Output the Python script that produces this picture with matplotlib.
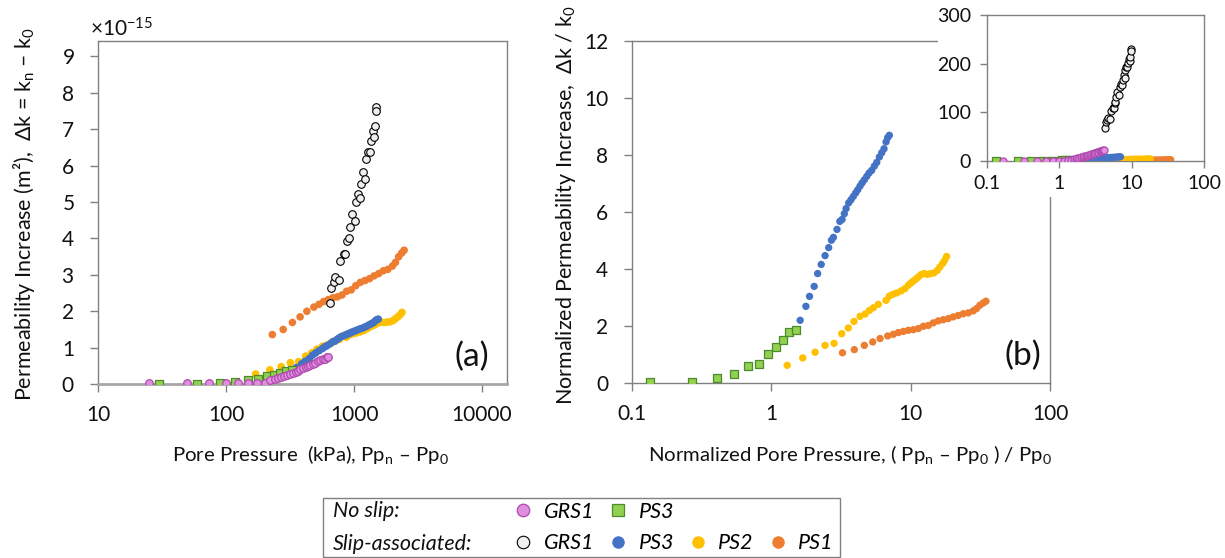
import numpy as np
import matplotlib
matplotlib.use("Agg")
import matplotlib.pyplot as plt
from matplotlib.lines import Line2D
from matplotlib.patches import Rectangle
from matplotlib.ticker import ScalarFormatter, FixedLocator

plt.rcParams['font.family'] = ['Lato', 'DejaVu Sans']
plt.rcParams['mathtext.fontset'] = 'custom'
plt.rcParams['mathtext.rm'] = 'Lato'
plt.rcParams['mathtext.it'] = 'Lato:italic'

# ---- data ----
# GRS1 read in raw units: pressure (kPa), permeability increase (1e-15 m^2)
grs1_ns_p = [24.9, 49.5, 74, 100, 123, 149, 175, 200, 222, 240, 255, 270, 285, 300,
             318, 335, 350, 365, 381, 400, 420, 440, 456, 480, 500, 525, 546, 570,
             590, 610, 627]
grs1_ns_dk = [0.03, 0.03, 0.03, 0.03, 0.03, 0.03, 0.03, 0.04, 0.10, 0.13, 0.16, 0.18,
              0.22, 0.25, 0.28, 0.31, 0.34, 0.37, 0.40, 0.43, 0.46, 0.49, 0.52, 0.55,
              0.58, 0.62, 0.65, 0.68, 0.70, 0.73, 0.74]
grs1_sl_p = [646, 665, 693, 714, 759, 781, 830, 855, 881, 908, 935, 964, 1011, 1042,
             1074, 1107, 1140, 1175, 1211, 1248, 1285, 1324, 1364, 1406, 1425, 1450,
             1475, 1494]
grs1_sl_dk = [2.23, 2.65, 2.81, 2.93, 2.85, 3.38, 3.57, 3.58, 3.93, 4.02, 4.32, 4.66,
              4.48, 4.99, 5.23, 5.12, 5.48, 5.83, 5.63, 6.17, 6.38, 6.38, 6.67, 6.94,
              6.79, 7.08, 7.61, 7.49]

# PS tests read in normalized units: (Ppn-Pp0)/Pp0 and dk/k0
ps3_ns_x = [0.135, 0.268, 0.407, 0.538, 0.679, 0.814, 0.949, 1.083, 1.209, 1.349, 1.498]
ps3_ns_y = [0.035, 0.035, 0.19, 0.32, 0.59, 0.68, 1.01, 1.26, 1.52, 1.78, 1.85]
ps3_sl_x = [1.61, 1.77, 1.88, 2.03, 2.15, 2.28, 2.43, 2.58, 2.70, 2.79, 2.96, 3.10,
            3.22, 3.34, 3.44, 3.59, 3.73, 3.88, 4.03, 4.17, 4.33, 4.48, 4.65, 4.84,
            5.03, 5.25, 5.49, 5.71, 5.96, 6.20, 6.44, 6.66, 6.84, 7.03]
ps3_sl_y = [2.20, 2.69, 3.04, 3.39, 3.84, 4.16, 4.47, 4.75, 5.01, 5.11, 5.39, 5.67,
            5.74, 5.94, 6.12, 6.32, 6.43, 6.55, 6.67, 6.78, 6.91, 7.02, 7.13, 7.25,
            7.37, 7.46, 7.61, 7.74, 7.93, 8.08, 8.22, 8.46, 8.61, 8.69]
ps2_x = [1.30, 1.68, 2.06, 2.43, 2.82, 3.20, 3.57, 3.92, 4.33, 4.71, 5.06, 5.40, 5.86,
         6.66, 7.03, 7.43, 7.94, 8.53, 9.10, 9.62, 10.05, 10.45, 10.92, 11.35, 11.86,
         12.46, 13.16, 13.90, 14.69, 15.52, 16.2, 16.94, 17.52, 18.1]
ps2_y = [0.62, 0.88, 1.08, 1.32, 1.39, 1.73, 1.93, 2.16, 2.34, 2.42, 2.55, 2.64, 2.76,
         2.90, 3.05, 3.11, 3.16, 3.23, 3.31, 3.43, 3.51, 3.58, 3.65, 3.72, 3.80, 3.84,
         3.81, 3.84, 3.86, 3.95, 4.07, 4.19, 4.30, 4.44]
ps1_x = [3.24, 3.94, 4.65, 5.34, 6.03, 6.84, 7.51, 8.16, 8.86, 9.62, 10.45, 11.35,
         12.33, 13.39, 14.53, 15.79, 17.14, 18.62, 20.2, 21.97, 23.86, 25.9, 28.1,
         29.7, 31.4, 33.2, 34.7]
ps1_y = [1.06, 1.17, 1.32, 1.44, 1.56, 1.65, 1.71, 1.77, 1.81, 1.85, 1.87, 1.91, 1.99,
         2.02, 2.11, 2.18, 2.22, 2.26, 2.32, 2.37, 2.43, 2.46, 2.53, 2.61, 2.73, 2.81,
         2.87]

# initial pore pressure (kPa) and initial permeability (1e-15 m^2) per sample
pp0 = {'GRS1': 152, 'PS3': 220, 'PS2': 131, 'PS1': 71}
k0 = {'GRS1': 0.033, 'PS3': 0.205, 'PS2': 0.443, 'PS1': 1.28}

# raw series for panel (a), normalized series for panel (b)
raw = {
    'grs1_ns': (np.array(grs1_ns_p), np.array(grs1_ns_dk)),
    'grs1_sl': (np.array(grs1_sl_p), np.array(grs1_sl_dk)),
    'ps3_ns': (np.array(ps3_ns_x) * pp0['PS3'], np.array(ps3_ns_y) * k0['PS3']),
    'ps3_sl': (np.array(ps3_sl_x) * pp0['PS3'], np.array(ps3_sl_y) * k0['PS3']),
    'ps2': (np.array(ps2_x) * pp0['PS2'], np.array(ps2_y) * k0['PS2']),
    'ps1': (np.array(ps1_x) * pp0['PS1'], np.array(ps1_y) * k0['PS1']),
}
norm = {
    'grs1_ns': (np.array(grs1_ns_p) / pp0['GRS1'], np.array(grs1_ns_dk) / k0['GRS1']),
    'grs1_sl': (np.array(grs1_sl_p) / pp0['GRS1'], np.array(grs1_sl_dk) / k0['GRS1']),
    'ps3_ns': (np.array(ps3_ns_x), np.array(ps3_ns_y)),
    'ps3_sl': (np.array(ps3_sl_x), np.array(ps3_sl_y)),
    'ps2': (np.array(ps2_x), np.array(ps2_y)),
    'ps1': (np.array(ps1_x), np.array(ps1_y)),
}

# ---- styles ----
BLUE, YELLOW, ORANGE = '#4472C4', '#FFC000', '#ED7D31'
styles = {
    'ps1': dict(marker='o', color=ORANGE, edgecolor='none'),
    'ps2': dict(marker='o', color=YELLOW, edgecolor='none'),
    'ps3_sl': dict(marker='o', color=BLUE, edgecolor='none'),
    'ps3_ns': dict(marker='s', color='#92D050', edgecolor='#4E8A2E', linewidth=0.9),
    'grs1_sl': dict(marker='o', color='#F0F0F0', edgecolor='black', linewidth=0.8),
    'grs1_ns': dict(marker='o', color='#E08FDF', edgecolor='#B04AB0', linewidth=0.9),
}
order = ['ps1', 'ps2', 'ps3_sl', 'ps3_ns', 'grs1_sl', 'grs1_ns']
SPINE = '#808080'
TXT = '#111111'

W, H = 1225, 558
fig = plt.figure(figsize=(W / 100, H / 100), dpi=100)


def px_axes(x0, y0, x1, y1, **kw):
    return fig.add_axes([x0 / W, 1 - y1 / H, (x1 - x0) / W, (y1 - y0) / H], **kw)


def style_axes(ax, size, ylen, ypad, xpad):
    for s in ax.spines.values():
        s.set_color(SPINE)
        s.set_linewidth(1.0)
    ax.tick_params(axis='both', which='major', direction='out', color=SPINE,
                   labelcolor=TXT, labelsize=size, width=1.0, length=ylen)
    ax.tick_params(axis='y', pad=ypad)
    ax.tick_params(axis='x', pad=xpad)
    ax.tick_params(which='minor', length=0)


axL = px_axes(98, 41, 507, 384)
axR = px_axes(632, 41, 1050, 383, zorder=0)
axI = px_axes(987, 15, 1204, 161, zorder=2)
fig.add_artist(Rectangle((938 / W, 1 - 197 / H), 1 - 938 / W, 197 / H,
                         transform=fig.transFigure, facecolor='white',
                         edgecolor='none', zorder=1))

# panel (a)
for key in order:
    x, y = raw[key]
    axL.scatter(x, y * 1e-15, s=30, zorder=3, **styles[key])
axL.set_xscale('log')
axL.set_xlim(10, 15670)
axL.set_ylim(0, 9.42e-15)
axL.xaxis.set_major_locator(FixedLocator([10, 100, 1000, 10000]))
axL.set_xticklabels(['10', '100', '1000', '10000'])
axL.yaxis.set_major_locator(FixedLocator(np.arange(0, 10) * 1e-15))
fmt = ScalarFormatter(useMathText=True)
fmt.set_powerlimits((0, 0))
axL.yaxis.set_major_formatter(fmt)
style_axes(axL, 15, 6, 11, 9)
axL.spines['bottom'].set_color('#A6A6A6')
axL.spines['bottom'].set_linewidth(2.0)
axL.yaxis.get_offset_text().set_fontsize(15)
axL.yaxis.get_offset_text().set_x(-0.02)
axL.text(0.915, 0.08, '(a)', transform=axL.transAxes, fontsize=24,
         ha='center', va='center', color=TXT)

# panel (b)
for key in ['ps2', 'ps1', 'ps3_sl', 'ps3_ns']:
    x, y = norm[key]
    axR.scatter(x, y, s=28, zorder=3, **styles[key])
axR.set_xscale('log')
axR.set_xlim(0.1, 100)
axR.set_ylim(0, 12)
axR.xaxis.set_major_locator(FixedLocator([0.1, 1, 10, 100]))
axR.set_xticklabels(['0.1', '1', '10', '100'])
axR.yaxis.set_major_locator(FixedLocator([0, 2, 4, 6, 8, 10, 12]))
style_axes(axR, 15, 6, 11, 9)
axR.text(0.935, 0.08, '(b)', transform=axR.transAxes, fontsize=24,
         ha='center', va='center', color=TXT)

# inset
for key in order:
    x, y = norm[key]
    axI.scatter(x, y, s=26, zorder=3, **styles[key])
axI.set_xscale('log')
axI.set_xlim(0.1, 100)
axI.set_ylim(0, 300)
axI.xaxis.set_major_locator(FixedLocator([0.1, 1, 10, 100]))
axI.set_xticklabels(['0.1', '1', '10', '100'])
axI.yaxis.set_major_locator(FixedLocator([0, 100, 200, 300]))
style_axes(axI, 14, 5, 6.5, 5)

# axis labels
fig.text(24 / W, 1 - 214 / H,
         'Permeability Increase (m\u00b2),  \u0394k = k$_\\mathrm{n}$ \u2013 k$_\\mathrm{0}$',
         rotation=90, ha='center', va='center', fontsize=15.5, color=TXT)
fig.text(566 / W, 1 - 205 / H,
         'Normalized Permeability Increase,  \u0394k / k$_\\mathrm{0}$',
         rotation=90, ha='center', va='center', fontsize=15.5, color=TXT)
fig.text(310 / W, 1 - 454 / H,
         'Pore Pressure  (kPa), Pp$_\\mathrm{n}$ \u2013 Pp$_\\mathrm{0}$',
         ha='center', va='center', fontsize=14.7, color=TXT)
fig.text(850 / W, 1 - 454 / H,
         'Normalized Pore Pressure, ( Pp$_\\mathrm{n}$ \u2013 Pp$_\\mathrm{0}$ ) / Pp$_\\mathrm{0}$',
         ha='center', va='center', fontsize=14.7, color=TXT)

# legend
fig.add_artist(Rectangle((323 / W, 1 - 557 / H), (840 - 323) / W, (557 - 498) / H,
                         transform=fig.transFigure, facecolor='white',
                         edgecolor='#808080', linewidth=1.0, zorder=1))
fig.text(333 / W, 1 - 511 / H, 'No slip:', style='italic', fontsize=15.5,
         ha='left', va='center', color=TXT, zorder=2)
fig.text(333 / W, 1 - 544 / H, 'Slip-associated:', style='italic', fontsize=15.5,
         ha='left', va='center', color=TXT, zorder=2)


def handle(key):
    st = styles[key]
    return Line2D([], [], linestyle='none', marker=st['marker'], markersize=9,
                  markerfacecolor=st['color'],
                  markeredgecolor=st['edgecolor'] if st['edgecolor'] != 'none' else st['color'],
                  markeredgewidth=st.get('linewidth', 0))


blank = Line2D([], [], linestyle='none')
handles = [handle('grs1_ns'), handle('grs1_sl'), handle('ps3_ns'), handle('ps3_sl'),
           blank, handle('ps2'), blank, handle('ps1')]
labels = ['GRS1', 'GRS1', 'PS3', 'PS3', '', 'PS2', '', 'PS1']
leg = fig.legend(handles, labels, ncol=4, loc='center left',
                 bbox_to_anchor=(504 / W, 1 - 527.5 / H), frameon=False,
                 prop={'style': 'italic', 'size': 15.5}, handlelength=0.8,
                 handletextpad=0.54, columnspacing=0.72, labelspacing=0.55,
                 borderpad=0.0)
leg.set_zorder(3)

fig.savefig('out.png', dpi=100)
